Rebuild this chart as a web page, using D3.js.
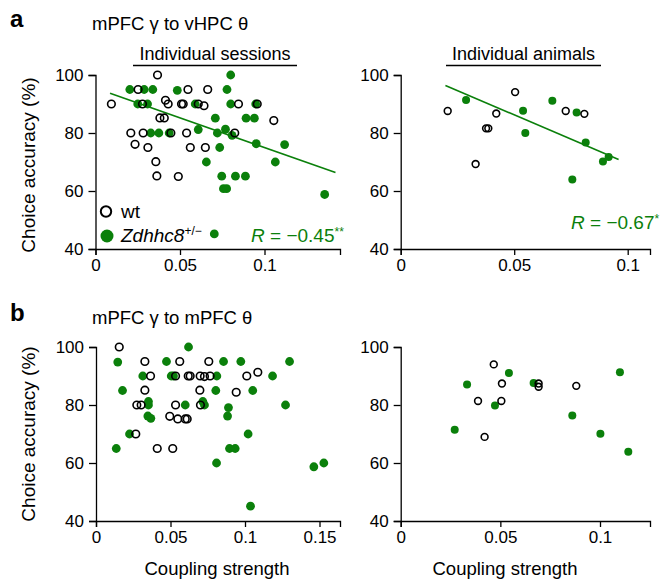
<!DOCTYPE html>
<html>
<head>
<meta charset="utf-8">
<script src="https://cdn.jsdelivr.net/npm/d3@7"></script>
<style>
  body { margin: 0; background: #fff; }
  svg { font-family: "Liberation Sans", Arial, Helvetica, sans-serif; }
  .axis path, .axis line { stroke: #000; stroke-width: 1.3; }
  .axis text { font-size: 17px; fill: #000; }
</style>
</head>
<body>
<svg id="chart" width="671" height="581"></svg>
<script>
// values: [coupling strength, choice accuracy %]
var aSessionsWt = [[0.0367,100],[0.0252,95],[0.0547,95],[0.0664,95],[0.0094,90],[0.0278,90],[0.0414,91.3],[0.043,90],
  [0.0509,90],[0.0519,90],[0.0608,90],[0.0642,89.4],[0.0846,90],[0.0957,90],[0.0381,85.2],[0.0407,85.2],[0.1055,84.3],
  [0.0209,80],[0.0282,80],[0.0446,80],[0.0539,80],[0.0824,80],[0.0234,76.1],[0.031,75],[0.0561,75],[0.065,75],
  [0.0357,70.1],[0.0363,65.2],[0.049,65]];
var aSessionsMut = [[0.08,100],[0.0203,95],[0.0288,95],[0.0339,95],[0.0484,94.7],[0.0778,95],[0.025,90],[0.0308,90],
  [0.059,90],[0.08,90],[0.0948,90],[0.0709,85.1],[0.0891,85.1],[0.094,85.1],[0.0608,81.2],[0.0769,81.3],[0.0327,80],
  [0.0375,80],[0.0436,80],[0.0721,80],[0.0808,79.2],[0.0951,76.3],[0.1119,76],[0.0735,75],[0.0656,70],[0.1064,70],
  [0.0747,65.1],[0.0828,65.1],[0.0887,65.1],[0.0757,60.8],[0.0776,60.8],[0.1356,58.8],[0.0703,45.2]];
var aSessionsFit = [[0.0086,93.7],[0.142,66.4]];

var aAnimalsWt = [[0.0207,87.6],[0.033,69.3],[0.0376,81.6],[0.0386,81.6],[0.0421,86.7],[0.0504,94.1],[0.0727,87.6],[0.0809,86.6]];
var aAnimalsMut = [[0.0288,91.4],[0.0539,87.7],[0.0549,80],[0.0668,91.1],[0.0775,87.1],[0.0756,64],[0.0815,76.7],[0.0891,70.2],[0.0916,71.7]];
var aAnimalsFit = [[0.0197,96.4],[0.096,70.9]];

var bSessionsWt = [[0.0156,100],[0.0328,95],[0.0562,95],[0.0757,95],[0.0366,90],[0.0534,90],[0.0619,90],[0.0632,90],
  [0.0699,90],[0.0728,89.8],[0.0766,90],[0.1012,90],[0.1086,91.3],[0.0328,85.1],[0.0697,85.1],[0.0941,84.4],
  [0.0274,80],[0.0303,80],[0.0534,80],[0.0701,80],[0.0495,76.1],[0.0549,75.2],[0.0599,75.2],[0.0612,75.2],
  [0.0267,70],[0.0411,65],[0.0515,65]];
var bSessionsMut = [[0.0621,100],[0.0146,94.8],[0.0473,95],[0.0856,95],[0.0972,95],[0.1299,95],[0.0314,90],[0.0505,90],
  [0.052,90],[0.0811,90],[0.1185,90],[0.0178,85],[0.0804,85],[0.1052,85],[0.0352,81.2],[0.0352,80],[0.0599,80],
  [0.0717,81.2],[0.0728,80],[0.0889,79.1],[0.1272,80],[0.0348,76.2],[0.0368,75.4],[0.0883,76.2],[0.0225,70],
  [0.1021,70],[0.0136,65],[0.0896,65],[0.0934,65],[0.0809,60],[0.1462,58.7],[0.1529,60],[0.1037,45.1]];

var bAnimalsWt = [[0.0467,94],[0.0508,87.4],[0.0388,81.4],[0.0505,81.4],[0.0421,69],[0.0692,87.4],[0.0692,86.3],[0.0881,86.6]];
var bAnimalsMut = [[0.0333,87.1],[0.0543,91],[0.0473,79.8],[0.0667,87.6],[0.0861,76.4],[0.11,91.3],[0.0271,71.5],[0.1002,70.1],[0.1142,63.9]];

var yTicks = [40, 60, 80, 100];
var xTicksSessionsA = [0, 0.05, 0.1];
var xTicksSessionsB = [0, 0.05, 0.1, 0.15];
var xTicksAnimals = [0, 0.05, 0.1];

var green = "#0b800b";
var svg = d3.select("#chart");

// one scatter panel
function drawPanel(p) {
  var x = d3.scaleLinear().domain([0, p.xmax]).range([p.left, p.right]);
  var y = d3.scaleLinear().domain([40, 100]).range([p.bottom, p.top]);
  var g = svg.append("g");

  g.append("g")
    .attr("class", "axis")
    .attr("transform", "translate(0," + p.bottom + ")")
    .call(d3.axisBottom(x).tickValues(p.xTicks).tickSizeOuter(0).tickSize(6).tickPadding(4)
      .tickFormat(function (d) { return d === 0 ? "0" : String(d); }));

  g.append("g")
    .attr("class", "axis")
    .attr("transform", "translate(" + p.left + ",0)")
    .call(d3.axisLeft(y).tickValues(yTicks).tickSizeOuter(0).tickSize(7).tickPadding(5));

  g.selectAll(".axis text").attr("font-family", null);
  g.selectAll(".axis").attr("font-size", null).attr("font-family", null);

  if (p.fit) {
    g.append("path")
      .attr("d", d3.line().x(function (d) { return x(d[0]); }).y(function (d) { return y(d[1]); })(p.fit))
      .attr("fill", "none")
      .attr("stroke", green)
      .attr("stroke-width", 1.6);
  }

  g.selectAll(".mut")
    .data(p.mut)
    .enter()
    .append("circle")
    .attr("cx", function (d) { return x(d[0]); })
    .attr("cy", function (d) { return y(d[1]); })
    .attr("r", p.r + 0.6)
    .attr("fill", green);

  g.selectAll(".wt")
    .data(p.wt)
    .enter()
    .append("circle")
    .attr("cx", function (d) { return x(d[0]); })
    .attr("cy", function (d) { return y(d[1]); })
    .attr("r", p.r)
    .attr("fill", "none")
    .attr("stroke", "#000")
    .attr("stroke-width", 1.6);
}

drawPanel({ left: 95.5, right: 340, xmax: (340 - 95.5) / 1690, top: 75, bottom: 249, xTicks: xTicksSessionsA,
  wt: aSessionsWt, mut: aSessionsMut, fit: aSessionsFit, r: 3.8 });
drawPanel({ left: 400.7, right: 650, xmax: (650 - 400.7) / 2270, top: 75, bottom: 249, xTicks: xTicksAnimals,
  wt: aAnimalsWt, mut: aAnimalsMut, fit: aAnimalsFit, r: 3.4 });
drawPanel({ left: 96, right: 340, xmax: (340 - 96) / 1490, top: 347, bottom: 521, xTicks: xTicksSessionsB,
  wt: bSessionsWt, mut: bSessionsMut, r: 3.8 });
drawPanel({ left: 400.7, right: 650, xmax: (650 - 400.7) / 1993, top: 347, bottom: 521, xTicks: xTicksAnimals,
  wt: bAnimalsWt, mut: bAnimalsMut, r: 3.4 });

// panel letters and titles
svg.append("text").attr("x", 10).attr("y", 27).attr("font-size", 24).attr("font-weight", "bold").text("a");
svg.append("text").attr("x", 10).attr("y", 321).attr("font-size", 24).attr("font-weight", "bold").text("b");
svg.append("text").attr("x", 92).attr("y", 30).attr("font-size", 18.5).text("mPFC \u03b3 to vHPC \u03b8");
svg.append("text").attr("x", 92).attr("y", 324).attr("font-size", 18.5).text("mPFC \u03b3 to mPFC \u03b8");

// underlined sub titles
[["Individual sessions", 215, 133, 297], ["Individual animals", 523.5, 446, 601]].forEach(function (s) {
  svg.append("text").attr("x", s[1]).attr("y", 60).attr("text-anchor", "middle").attr("font-size", 18).text(s[0]);
  svg.append("line").attr("x1", s[2]).attr("x2", s[3]).attr("y1", 65.5).attr("y2", 65.5)
    .attr("stroke", "#000").attr("stroke-width", 1.3);
});

// axis labels
[165, 434].forEach(function (cy) {
  svg.append("text")
    .attr("transform", "translate(35," + cy + ") rotate(-90)")
    .attr("text-anchor", "middle")
    .attr("font-size", 19)
    .text("Choice accuracy (%)");
});
[217, 505].forEach(function (cx) {
  svg.append("text").attr("x", cx).attr("y", 575).attr("text-anchor", "middle").attr("font-size", 18.5).text("Coupling strength");
});

// legend
svg.append("circle").attr("cx", 106).attr("cy", 211.5).attr("r", 5.2).attr("fill", "none").attr("stroke", "#000").attr("stroke-width", 2);
svg.append("text").attr("x", 121).attr("y", 217.5).attr("font-size", 19).text("wt");
svg.append("circle").attr("cx", 107).attr("cy", 236).attr("r", 6.5).attr("fill", green);
var lg = svg.append("text").attr("x", 121).attr("y", 242).attr("font-size", 19).attr("font-style", "italic");
lg.append("tspan").text("Zdhhc8");
lg.append("tspan").attr("dy", -7).attr("font-size", 12).attr("font-style", "normal").text("+/\u2212");

// correlation labels
function rLabel(xPos, yPos, val, stars) {
  var t = svg.append("text").attr("x", xPos).attr("y", yPos).attr("font-size", 19).attr("fill", green);
  t.append("tspan").attr("font-style", "italic").text("R");
  t.append("tspan").text(" = \u2212" + val);
  t.append("tspan").attr("dy", -6).attr("font-size", 12).text(stars);
}
rLabel(251, 242, "0.45", "**");
rLabel(571, 229, "0.67", "*");
</script>
</body>
</html>
